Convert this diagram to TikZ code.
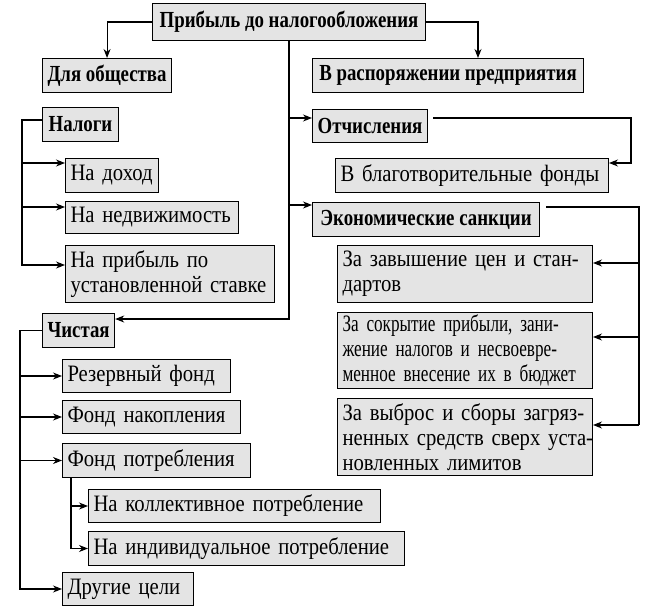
\documentclass[tikz,border=0pt]{standalone}
\usepackage{fontspec}
\setmainfont[FakeStretch=0.88]{Liberation Serif}
\newfontfamily\headfont[FakeStretch=0.82]{Liberation Serif}
\newfontfamily\narrowfont[FakeStretch=0.73]{Liberation Serif}
\usetikzlibrary{arrows.meta}
\definecolor{boxgray}{RGB}{228,228,228}
\newcommand{\jl}[1]{\makebox[\hsize][s]{#1}}

\begin{document}
\begin{tikzpicture}[x=1pt,y=-1pt,
  box/.style={draw,fill=boxgray,line width=1pt,anchor=north west,inner xsep=5pt,inner ysep=0pt,align=left,font=\fontsize{23.5}{25}\selectfont},
  head/.style={box,font=\fontsize{23}{25}\headfont\bfseries},
  arr/.style={-{Stealth[length=9pt,width=7pt]},line width=1.1pt}]
  \useasboundingbox (0,0) rectangle (669,610);
  \node[head,minimum width=273pt,minimum height=37pt] (top) at (152,3) {Прибыль до налогообложения};
  \node[head,minimum width=124pt,minimum height=34pt] (obsch) at (42,58) {Для общества};
  \node[head,minimum width=271pt,minimum height=34pt] (rasp) at (312,58) {В распоряжении предприятия};
  \node[head,minimum width=76pt,minimum height=34pt] (nalogi) at (42,107) {Налоги};
  \node[head,minimum width=115pt,minimum height=33pt] (otch) at (312,109) {Отчисления};
  \node[box,text width=83pt,minimum height=34pt] (dohod) at (65,158) {На доход};
  \node[box,text width=263pt,minimum height=34pt] (blag) at (335,158) {В благотворительные фонды};
  \node[box,text width=163pt,minimum height=32pt] (nedv) at (65,201) {На недвижимость};
  \node[head,minimum width=227pt,minimum height=34pt] (ekon) at (312,202) {Экономические санкции};
  \node[box,text width=199pt,minimum height=57pt] (pribyl) at (65,245) {На прибыль по\\установленной ставке};
  \node[box,text width=245pt,minimum height=57pt] (zav) at (337,245) {\jl{За завышение цен и стан-}\\дартов};
  \node[head,minimum width=72pt,minimum height=34pt] (chist) at (42,313) {Чистая};
  \node[box,text width=245pt,minimum height=76pt] (sokr) at (337,312) {\narrowfont\jl{За сокрытие прибыли, зани-}\\\jl{жение налогов и несвоевре-}\\\jl{менное внесение их в бюджет}};
  \node[box,text width=245pt,minimum height=77pt] (vybr) at (337,398) {\jl{За выброс и сборы загряз-}\\\jl{ненных средств сверх уста-}\\новленных лимитов};
  \node[box,text width=158pt,minimum height=33pt] (rez) at (62,359) {Резервный фонд};
  \node[box,text width=168pt,minimum height=33pt] (nakop) at (62,400) {Фонд накопления};
  \node[box,text width=178pt,minimum height=34pt] (potr) at (62,443) {Фонд потребления};
  \node[box,text width=282pt,minimum height=33pt] (koll) at (88,489) {На коллективное потребление};
  \node[box,text width=306pt,minimum height=34pt] (ind) at (88,531) {На индивидуальное потребление};
  \node[box,text width=121pt,minimum height=33pt] (drug) at (62,572) {Другие цели};

  \draw[arr] (top.west) -| (obsch.north);
  \draw[arr] (top.east) -| ([xshift=30pt]rasp.north);
  \draw[arr] (top.south) |- ([yshift=-6pt]chist.north east);
  \draw[arr] ([yshift=-9pt]otch.north west -| top.south) -- ([yshift=-9pt]otch.north west);
  \draw[arr] ([yshift=-3pt]ekon.north west -| top.south) -- ([yshift=-3pt]ekon.north west);

  \draw[arr] ([shift={(5pt,-9pt)}]otch.north east) -| ([shift={(22pt,-5pt)}]blag.north east) -- ([yshift=-5pt]blag.north east);
  \draw[line width=1.1pt] ([shift={(6pt,-5pt)}]ekon.north east) -| ([shift={(46pt,-27pt)}]vybr.north east) coordinate (el);
  \draw[arr] ([yshift=-18pt]zav.north east -| el) -- ([yshift=-18pt]zav.north east);
  \draw[arr] ([yshift=-25pt]sokr.north east -| el) -- ([yshift=-25pt]sokr.north east);
  \draw[arr] (el) -- ([yshift=-27pt]vybr.north east);

  \draw[arr] ([yshift=-13pt]nalogi.north west) -- ++(-20,0) coordinate (nl) |- ([yshift=-20pt]pribyl.north west);
  \draw[arr] ([yshift=-5pt]dohod.north west -| nl) -- ([yshift=-5pt]dohod.north west);
  \draw[arr] ([yshift=-6pt]nedv.north west -| nl) -- ([yshift=-6pt]nedv.north west);

  \draw[arr] (chist.west) -- ++(-22,0) coordinate (cl) |- (drug.west);
  \draw[arr] (rez.west -| cl) -- (rez.west);
  \draw[arr] (nakop.west -| cl) -- (nakop.west);
  \draw[arr] (potr.west -| cl) -- (potr.west);

  \draw[arr] ([xshift=9pt]potr.south west) |- (ind.west);
  \draw[arr] ([xshift=9pt]potr.south west |- koll.west) -- (koll.west);
\end{tikzpicture}
\end{document}
